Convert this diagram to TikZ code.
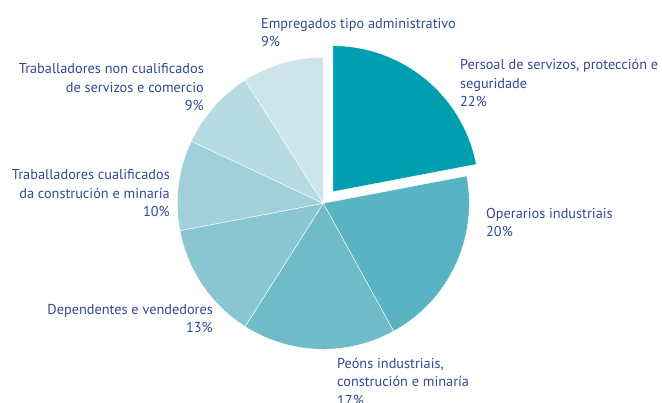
\documentclass[tikz,border=0pt]{standalone}
\usepackage{fontspec}
\setmainfont{PT Sans}
\definecolor{ink}{RGB}{52,72,150}
\definecolor{persoalc}{RGB}{0,159,176}
\definecolor{operariosc}{RGB}{88,179,194}
\definecolor{peonsc}{RGB}{111,188,200}
\definecolor{dependentesc}{RGB}{138,198,210}
\definecolor{cualifc}{RGB}{162,208,218}
\definecolor{noncualifc}{RGB}{182,219,226}
\definecolor{empregadosc}{RGB}{205,229,234}
\begin{document}
\begin{tikzpicture}[x=1pt,y=1pt]
        \tikzstyle{sector}=[draw=white,line width=0.4pt]
        \tikzstyle{tag}=[text=ink,font=\fontsize{14.3}{18.5}\selectfont,inner sep=0pt]
        \useasboundingbox (0,0) rectangle (662,403);
        \coordinate (o) at (323.3,199.7);
        \path (o) ++(50.4:15) coordinate (ox);
       \begin{scope}
         \filldraw[sector,fill=persoalc] (ox) -- ++(90:146) arc (90:10.8:146) -- cycle;
         \filldraw[sector,fill=operariosc] (o) -- ++(10.8:146) arc (10.8:-61.2:146) -- cycle;
         \filldraw[sector,fill=peonsc] (o) -- ++(-61.2:146) arc (-61.2:-122.4:146) -- cycle;
         \filldraw[sector,fill=dependentesc] (o) -- ++(-122.4:146) arc (-122.4:-169.2:146) -- cycle;
         \filldraw[sector,fill=cualifc] (o) -- ++(-169.2:146) arc (-169.2:-205.2:146) -- cycle;
         \filldraw[sector,fill=noncualifc] (o) -- ++(-205.2:146) arc (-205.2:-237.6:146) -- cycle;
         \filldraw[sector,fill=empregadosc] (o) -- ++(-237.6:146) arc (-237.6:-270:146) -- cycle;
        \end{scope}
       \begin{scope}
         \node [tag,anchor=base west,align=left] (empregados) at (261,356) {Empregados tipo administrativo\\9\%};
         \node [tag,anchor=base west,align=left] (persoal) at (460,296) {Persoal de servizos, protección e\\seguridade\\22\%};
         \node [tag,anchor=base west,align=left] (operarios) at (486,166) {Operarios industriais\\20\%};
         \node [tag,anchor=base west,align=left] (peons) at (337,-2.5) {Peóns industriais,\\construción e minaría\\17\%};
         \node [tag,anchor=base east,align=right] (dependentes) at (213,70) {Dependentes e vendedores\\13\%};
         \node [tag,anchor=base east,align=right] (cualificados) at (170,186) {Traballadores cualificados\\da construción e minaría\\10\%};
         \node [tag,anchor=base east,align=right] (noncualif) at (204,292) {Traballadores non cualificados\\de servizos e comercio\\9\%};
        \end{scope}
      \end{tikzpicture}
\end{document}
